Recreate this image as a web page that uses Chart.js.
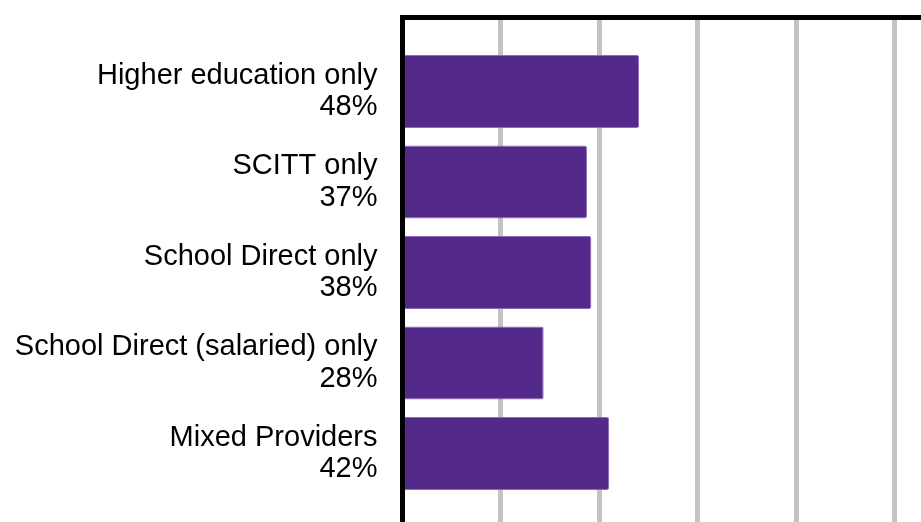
<!DOCTYPE html>
<html>
<head>
<meta charset="utf-8">
<script src="https://cdn.jsdelivr.net/npm/chart.js@4"></script>
<style>
  html, body { margin: 0; padding: 0; background: #fff; }
  #wrap { width: 921px; height: 522px; }
</style>
</head>
<body>
<div id="wrap"><canvas id="providerChart"></canvas></div>
<script>
const categories = ['Higher education only', 'SCITT only', 'School Direct only', 'School Direct (salaried) only', 'Mixed Providers'];
const values = [48.1, 37.5, 38.4, 28.7, 42.0];
const pctLabels = ['48%', '37%', '38%', '28%', '42%'];
const xTicks = [0, 20, 40, 60, 80, 100];

const ctx = document.getElementById('providerChart').getContext('2d');
const providerChart = new Chart(ctx, {
    type: 'bar',
    data: {
        datasets: [{
            data: values.map((v, i) => ({ x: v, y: i })),
            backgroundColor: '#53298A',
            borderColor: '#8c6cb8',
            borderWidth: { top: 1, right: 1, bottom: 1, left: 0 },
            borderRadius: 2,
            barPercentage: 0.807,
            categoryPercentage: 1
        }]
    },
    options: {
        indexAxis: 'y',
        responsive: true,
        maintainAspectRatio: false,
        animation: false,
        layout: { padding: { top: 17, right: 0, bottom: 0, left: 0 } },
        plugins: { legend: { display: false }, tooltip: { enabled: false } },
        scales: {
            x: {
                type: 'linear',
                position: 'top',
                min: 0,
                max: 105.4,
                afterBuildTicks: s => { s.ticks = xTicks.map(v => ({ value: v })); },
                afterFit: s => { s.height = 0; s.paddingLeft = 0; s.paddingRight = 0; },
                ticks: { display: false },
                grid: { color: '#c3c3c3', lineWidth: 5, drawTicks: false },
                border: { color: '#000', width: 5 }
            },
            y: {
                type: 'linear',
                reverse: true,
                offset: false,
                min: -0.823,
                max: 4.757,
                afterBuildTicks: s => { s.ticks = categories.map((c, i) => ({ value: i })); },
                afterFit: s => { s.width = 402.5; s.paddingTop = 0; s.paddingBottom = 0; },
                ticks: {
                    color: '#000',
                    padding: 25,
                    font: { family: '"Liberation Sans", Arial, sans-serif', size: 29, lineHeight: 1.09 },
                    callback: v => [categories[v], pctLabels[v]]
                },
                grid: { display: false, drawTicks: false, offset: false },
                border: { color: '#000', width: 5 }
            }
        }
    }
});
</script>
</body>
</html>
